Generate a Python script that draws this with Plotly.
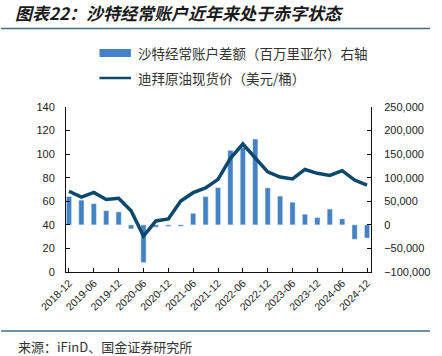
import plotly.graph_objects as go

# ---------------- data ----------------
quarters = ["2018-12", "2019-03", "2019-06", "2019-09", "2019-12", "2020-03", "2020-06",
            "2020-09", "2020-12", "2021-03", "2021-06", "2021-09", "2021-12", "2022-03",
            "2022-06", "2022-09", "2022-12", "2023-03", "2023-06", "2023-09", "2023-12",
            "2024-03", "2024-06", "2024-09", "2024-12"]
current_account = [60000, 52500, 45000, 30000, 27500, -8500, -80000, -5000, -3000, -3000,
                   24500, 60000, 79000, 158000, 164000, 182000, 78500, 61000, 48000, 22500,
                   15500, 33500, 12700, -30500, -28000]
dubai_oil = [68.5, 63.5, 67.5, 61.5, 62.5, 52.0, 30.5, 43.3, 45.0, 60.2, 67.3, 71.3, 78.6,
             96.5, 108.6, 97.0, 85.0, 80.6, 78.9, 87.0, 83.7, 82.0, 86.0, 78.0, 73.7]
tick_labels = quarters[::2]

title_text = "图表22：沙特经常账户近年来处于赤字状态"
bar_name = "沙特经常账户差额（百万里亚尔）右轴"
line_name = "迪拜原油现货价（美元/桶）"
source_text = "来源：iFinD、国金证券研究所"

BAR_COLOR = "rgb(68,130,196)"
LINE_COLOR = "rgb(10,72,108)"
RULE_COLOR = "rgb(64,108,138)"
CJK = "Noto Sans CJK SC"
NUM = "Liberation Sans"

W, H = 442, 356
L, R, T, B = 66, 376, 107, 272


def px(x):
    return (x - L) / (R - L)


def py(y):
    return (B - y) / (B - T)


fig = go.Figure()
fig.add_trace(go.Bar(x=quarters, y=current_account, name=bar_name, marker_color=BAR_COLOR,
                     width=0.42, yaxis="y", showlegend=False))
fig.add_trace(go.Scatter(x=quarters, y=dubai_oil, name=line_name, mode="lines",
                         line=dict(color=LINE_COLOR, width=3.5), yaxis="y2", showlegend=False))

axis_font = dict(family=NUM, size=11, color="#222")

fig.update_layout(
    width=W, height=H, autosize=False,
    margin=dict(l=L, r=W - R, t=T, b=H - B, pad=0),
    paper_bgcolor="white", plot_bgcolor="white",
    xaxis=dict(type="category", range=[-0.24, 24.32], tickmode="array",
               tickvals=tick_labels, ticktext=tick_labels, tickangle=-45,
               tickfont=dict(family=NUM, size=10.5, color="#222"),
               showline=True, linecolor="#111", linewidth=1, ticks="inside",
               ticklen=4, tickcolor="#111", showgrid=False, zeroline=False),
    yaxis=dict(side="right", range=[-100000, 250000], dtick=50000, tickformat=",",
               tickfont=axis_font, showline=True, linecolor="#111", linewidth=1,
               ticks="inside", ticklen=4, tickcolor="#111", showgrid=False,
               zeroline=False, ticklabelstandoff=10),
    yaxis2=dict(side="left", overlaying="y", range=[0, 140], dtick=20,
                tickfont=axis_font, showline=True, linecolor="#111", linewidth=1,
                ticks="inside", ticklen=4, tickcolor="#111", showgrid=False,
                zeroline=False, ticklabelstandoff=8),
    title=dict(text=title_text, x=15 / W, xanchor="left", xref="container",
               y=1 - 14.5 / H, yanchor="middle", yref="container",
               font=dict(family=CJK, size=17, color="#1a1a1a", style="italic", weight="bold")),
)

shapes = [
    dict(type="line", xref="paper", yref="paper", x0=px(0), x1=px(436), y0=py(28.5), y1=py(28.5),
         line=dict(color=RULE_COLOR, width=1.5)),
    dict(type="line", xref="paper", yref="paper", x0=px(0), x1=px(436), y0=py(331), y1=py(331),
         line=dict(color=RULE_COLOR, width=1.5)),
    dict(type="rect", xref="paper", yref="paper", x0=px(100), x1=px(132), y0=py(57), y1=py(49),
         fillcolor=BAR_COLOR, line=dict(width=0)),
    dict(type="line", xref="paper", yref="paper", x0=px(100), x1=px(132), y0=py(78), y1=py(78),
         line=dict(color=LINE_COLOR, width=2.5)),
]
fig.update_layout(shapes=shapes)

annots = [
    dict(text=bar_name, x=px(137), y=py(53), size=13.5),
    dict(text=line_name, x=px(137), y=py(78), size=13.5),
    dict(text=source_text, x=px(15), y=py(346.5), size=13),
]
for a in annots:
    fig.add_annotation(text=a["text"], x=a["x"], y=a["y"], xref="paper", yref="paper",
                       xanchor="left", yanchor="middle", showarrow=False,
                       font=dict(family=CJK, size=a["size"], color="#333"))

fig.write_html("out.html", config={"displayModeBar": False},
               post_script="document.body.style.margin='0';")
